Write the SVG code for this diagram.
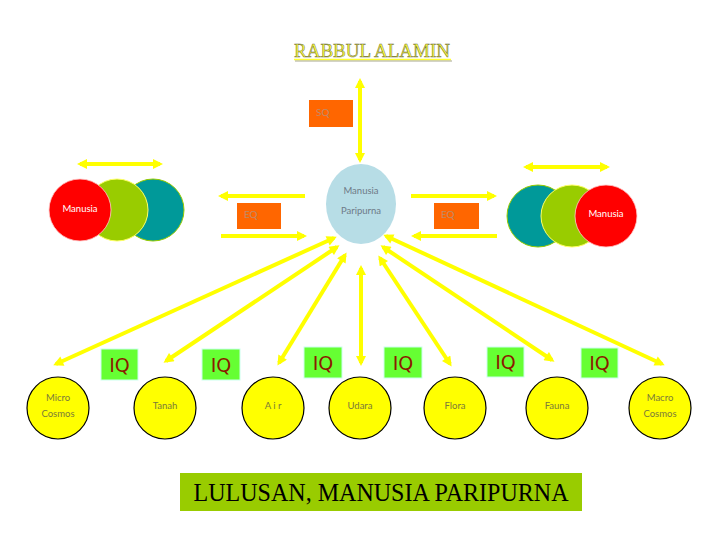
<svg xmlns="http://www.w3.org/2000/svg" width="720" height="540" viewBox="0 0 720 540">
<style>
.arr{stroke:#ffff00;stroke-width:4;fill:none}
.d{marker-start:url(#ah);marker-end:url(#ah)}
.s{marker-end:url(#ah)}
.lbl{font-family:Lato,"DejaVu Sans",sans-serif;font-size:9.5px;text-anchor:middle}
.yc{fill:#ffff00;stroke:#000;stroke-width:1.2}
.yt{fill:#7a7a3a}
.iq{fill:#66ff33;stroke:#ccffee;stroke-width:1}
.iqt{font-family:"DejaVu Sans",sans-serif;font-size:19px;fill:#8b1a00;text-anchor:middle}
.ob{fill:#ff6600}
.obt{font-family:Lato,sans-serif;font-size:10px;fill:#c08a6a}
</style>
<defs>
<marker id="ah" viewBox="0 0 10 10" refX="7" refY="5" markerWidth="11" markerHeight="10" markerUnits="userSpaceOnUse" orient="auto-start-reverse">
<path d="M0,0 L10,5 L0,10 z" fill="#ffff00"/>
</marker>
</defs>
<rect width="720" height="540" fill="#fff"/>
<g id="title">
<text x="372" y="57" font-family="Liberation Serif,serif" font-size="19" text-anchor="middle" fill="#ffff33" stroke="#6b6b40" stroke-width="0.5" textLength="156" lengthAdjust="spacingAndGlyphs">RABBUL ALAMIN</text>
<line x1="294" y1="59.5" x2="451" y2="59.5" stroke="#ffff33" stroke-width="1.5"/>
<line x1="295" y1="61" x2="452" y2="61" stroke="#6b6b40" stroke-width="0.6"/>
</g>
<g id="connectors">
<line class="arr d" x1="360" y1="160" x2="360" y2="81"/>
<line class="arr s" x1="305" y1="196" x2="221" y2="196"/>
<line class="arr s" x1="221" y1="236" x2="304" y2="236"/>
<line class="arr s" x1="411" y1="196" x2="494" y2="196"/>
<line class="arr s" x1="497" y1="236" x2="414" y2="236"/>
<line class="arr d" x1="80" y1="164" x2="160" y2="164"/>
<line class="arr d" x1="526" y1="167" x2="607" y2="167"/>
<line class="arr d" x1="334" y1="238" x2="56" y2="364"/>
<line class="arr d" x1="337" y1="247" x2="166" y2="361"/>
<line class="arr d" x1="345" y1="255" x2="279" y2="363"/>
<line class="arr d" x1="361" y1="268" x2="361" y2="363"/>
<line class="arr d" x1="380" y1="258" x2="450" y2="364"/>
<line class="arr d" x1="383" y1="247" x2="552" y2="360"/>
<line class="arr d" x1="386" y1="236" x2="662" y2="364"/>
</g>
<g id="sq"><rect class="ob" x="309" y="100" width="44" height="27"/><text class="obt" x="316" y="116">SQ</text></g>
<g id="eq-left"><rect class="ob" x="237" y="203" width="44" height="26"/><text class="obt" x="244" y="218">EQ</text></g>
<g id="eq-right"><rect class="ob" x="434" y="203" width="45" height="26"/><text class="obt" x="441" y="218">EQ</text></g>
<g id="manusia-paripurna">
<ellipse cx="361" cy="204" rx="35" ry="40" fill="#b7dde6"/>
<text class="lbl" x="361" y="194" fill="#6e7a86">Manusia</text>
<text class="lbl" x="361" y="214" fill="#6e7a86">Paripurna</text>
</g>
<g id="manusia-left">
<circle cx="153" cy="210" r="31" fill="#009999" stroke="#99cc00" stroke-width="1"/>
<circle cx="117" cy="210" r="31" fill="#99cc00" stroke="#ffff66" stroke-width="1"/>
<circle cx="80" cy="210" r="31" fill="#ff0000" stroke="#ffcccc" stroke-width="0.8"/>
<text class="lbl" x="80" y="212" fill="#fff">Manusia</text>
</g>
<g id="manusia-right">
<circle cx="538" cy="216" r="31" fill="#009999" stroke="#99cc00" stroke-width="1"/>
<circle cx="572" cy="216" r="31" fill="#99cc00" stroke="#ffff66" stroke-width="1"/>
<circle cx="606" cy="216" r="31" fill="#ff0000" stroke="#ffcccc" stroke-width="0.8"/>
<text class="lbl" x="606" y="217" fill="#fff">Manusia</text>
</g>
<g id="iq1"><rect class="iq" x="101" y="349" width="37" height="31"/><text class="iqt" x="119.5" y="372">IQ</text></g>
<g id="iq2"><rect class="iq" x="202" y="349" width="38" height="31"/><text class="iqt" x="221" y="372">IQ</text></g>
<g id="iq3"><rect class="iq" x="304" y="347" width="38" height="31"/><text class="iqt" x="323" y="370">IQ</text></g>
<g id="iq4"><rect class="iq" x="384" y="347" width="38" height="31"/><text class="iqt" x="403" y="370">IQ</text></g>
<g id="iq5"><rect class="iq" x="487" y="347" width="37" height="30"/><text class="iqt" x="505.5" y="369">IQ</text></g>
<g id="iq6"><rect class="iq" x="581" y="348" width="37" height="30"/><text class="iqt" x="599.5" y="370">IQ</text></g>
<g id="micro"><circle class="yc" cx="58" cy="408" r="31"/><text class="lbl yt" x="58" y="401">Micro</text><text class="lbl yt" x="58" y="417">Cosmos</text></g>
<g id="tanah"><circle class="yc" cx="165" cy="408" r="31"/><text class="lbl yt" x="165" y="409">Tanah</text></g>
<g id="air"><circle class="yc" cx="273" cy="408" r="31"/><text class="lbl yt" x="273" y="409">A i r</text></g>
<g id="udara"><circle class="yc" cx="360" cy="408" r="31"/><text class="lbl yt" x="360" y="409">Udara</text></g>
<g id="flora"><circle class="yc" cx="455" cy="408" r="31"/><text class="lbl yt" x="455" y="409">Flora</text></g>
<g id="fauna"><circle class="yc" cx="557" cy="408" r="31"/><text class="lbl yt" x="557" y="409">Fauna</text></g>
<g id="macro"><circle class="yc" cx="660" cy="408" r="31"/><text class="lbl yt" x="660" y="401">Macro</text><text class="lbl yt" x="660" y="417">Cosmos</text></g>
<g id="lulusan">
<rect x="180" y="473" width="402" height="38" fill="#99cc00"/>
<text x="381" y="501" font-family="Liberation Serif,serif" font-size="25" text-anchor="middle" fill="#000" textLength="375" lengthAdjust="spacingAndGlyphs">LULUSAN, MANUSIA PARIPURNA</text>
</g>
</svg>
